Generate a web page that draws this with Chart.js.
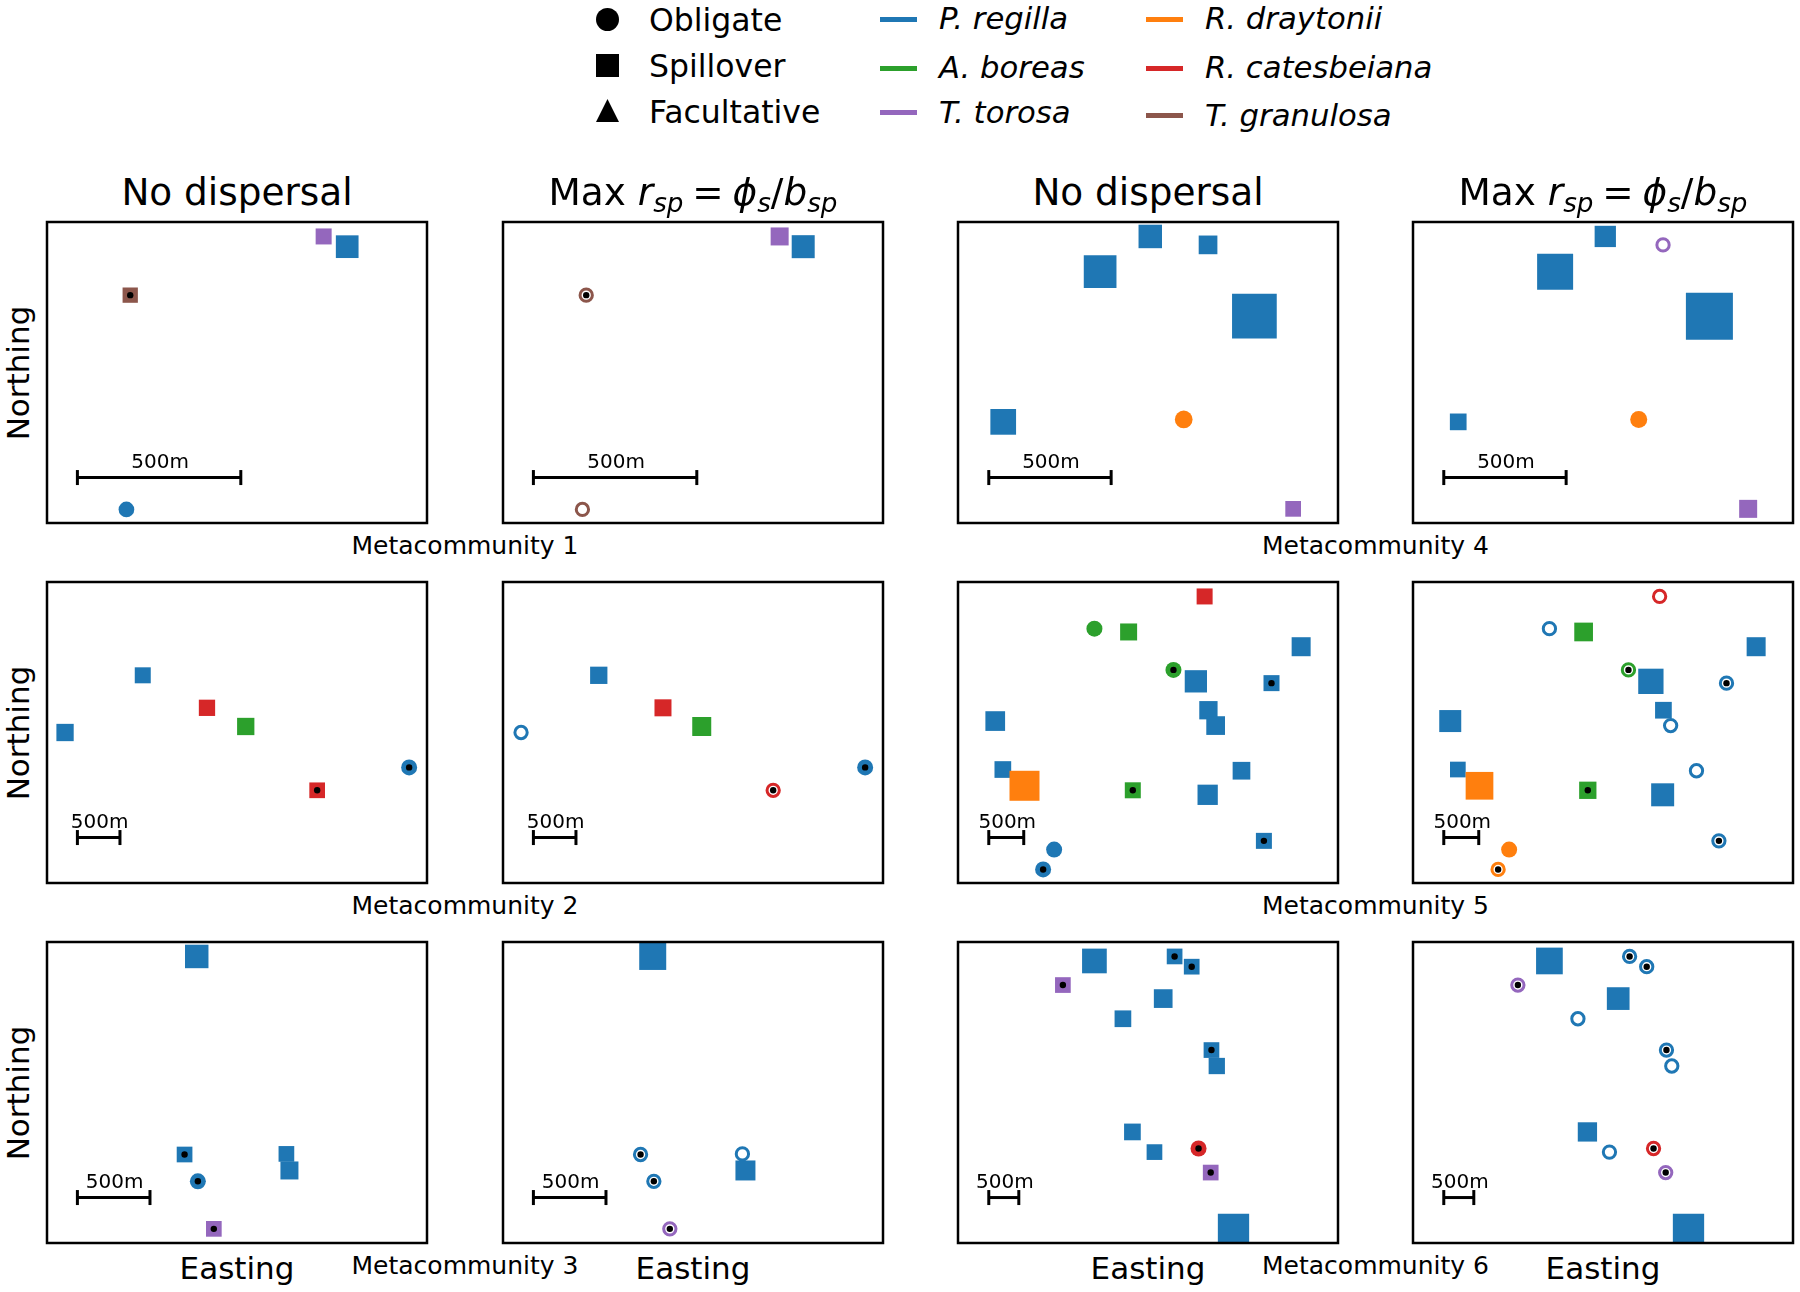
<!DOCTYPE html>
<html>
<head>
<meta charset="utf-8">
<title>Metacommunities</title>
<script src="https://cdn.jsdelivr.net/npm/chart.js@4/dist/chart.umd.js"></script>
<style>
  html, body { margin: 0; padding: 0; background: #fff; }
  #page { position: relative; width: 1800px; height: 1292px; overflow: hidden; font-family: "DejaVu Sans", sans-serif; color: #000; }
  #page canvas { position: absolute; display: block; }
  .txt { position: absolute; white-space: nowrap; line-height: 1; transform: translate(-50%, -50%); }
  .left { transform: translate(0, -50%); }
  .title { font-size: 37.4px; }
  .axis { font-size: 31px; }
  .meta { font-size: 25px; }
  .leg { font-size: 31.5px; }
  .sp { font-size: 30.7px; }
  .ylab { font-size: 31px; transform: translate(-50%, -50%) rotate(-90deg); }
  .eq { margin: 0 -0.08em; }
  sub { font-size: 0.7em; line-height: 0; vertical-align: -0.25em; }
  .mark { position: absolute; background: #000; }
  .swatch { position: absolute; height: 4.5px; width: 37px; }
</style>
</head>
<body>
<div id="page"></div>
<script>
const speciesNames = ['P. regilla', 'A. boreas', 'T. torosa', 'R. draytonii', 'R. catesbeiana', 'T. granulosa'];
const speciesColors = { P: '#1f77b4', A: '#2ca02c', T: '#9467bd', D: '#ff7f0e', C: '#d62728', G: '#8c564b' };
const speciesKeys = ['P', 'A', 'T', 'D', 'C', 'G'];
const typeNames = ['Obligate', 'Spillover', 'Facultative'];

// site kinds: s square, S square + dot, o circle, O circle + dot, r ring, R ring + dot
// sizes are the marker widths, easting/northing in % of the panel extent
const m1x = [72.8, 79.0, 21.9, 20.9];
const m1y = [95.2, 91.8, 75.7, 4.5];
const m1speciesA = ['T', 'P', 'G', 'P'];
const m1kindsA = ['s', 's', 'S', 'o'];
const m1sizesA = [16, 22.7, 15.3, 15.7];
const m1speciesB = ['T', 'P', 'G', 'G'];
const m1kindsB = ['s', 's', 'R', 'r'];
const m1sizesB = [18, 23, 15.3, 15.3];
const m1bar = [8.0, 51.0];

const m2x = [25.2, 42.1, 4.75, 52.3, 71.1, 95.3];
const m2y = [69.0, 58.2, 50.0, 52.0, 30.8, 38.4];
const m2speciesA = ['P', 'C', 'P', 'A', 'C', 'P'];
const m2kindsA = ['s', 's', 's', 's', 'S', 'O'];
const m2sizesA = [16, 16.3, 17.3, 17.3, 15.7, 16];
const m2speciesB = ['P', 'C', 'P', 'A', 'C', 'P'];
const m2kindsB = ['s', 's', 'r', 's', 'R', 'O'];
const m2sizesB = [17.3, 17, 15.3, 19, 15.3, 16];
const m2bar = [8.0, 19.2];

const m3x = [39.4, 36.2, 63.0, 63.8, 39.7, 43.9];
const m3y = [95.2, 29.4, 29.6, 24.1, 20.5, 4.7];
const m3speciesA = ['P', 'P', 'P', 'P', 'P', 'T'];
const m3kindsA = ['s', 'S', 's', 's', 'O', 'S'];
const m3sizesA = [23.5, 15.7, 15.7, 18, 16, 15.7];
const m3speciesB = ['P', 'P', 'P', 'P', 'P', 'T'];
const m3kindsB = ['s', 'R', 'r', 's', 'R', 'R'];
const m3sizesB = [27, 15.3, 15.3, 20, 15.3, 15.3];
const m3bar = [8.0, 27.1];

const m4x = [50.6, 65.8, 37.4, 78.0, 11.9, 59.4, 88.2];
const m4y = [95.2, 92.4, 83.5, 68.7, 33.6, 34.4, 4.7];
const m4speciesA = ['P', 'P', 'P', 'P', 'P', 'D', 'T'];
const m4kindsA = ['s', 's', 's', 's', 's', 'o', 's'];
const m4sizesA = [23.5, 18.7, 32.7, 44.7, 25.7, 17.7, 15.7];
const m4speciesB = ['P', 'T', 'P', 'P', 'P', 'D', 'T'];
const m4kindsB = ['s', 'r', 's', 's', 's', 'o', 's'];
const m4sizesB = [21.3, 15.3, 36, 47, 16.7, 17, 18];
const m4bar = [8.1, 40.3];

const m5x = [64.9, 35.9, 44.9, 90.3, 56.7, 62.6, 82.5, 65.9, 67.8, 9.8, 11.8, 17.5, 74.6, 46.0, 65.7, 25.3, 80.5, 22.4];
const m5y = [95.2, 84.5, 83.4, 78.5, 70.8, 67.0, 66.4, 57.4, 52.3, 53.8, 37.7, 32.3, 37.3, 30.8, 29.3, 11.1, 14.0, 4.5];
const m5speciesA = ['C', 'A', 'A', 'P', 'A', 'P', 'P', 'P', 'P', 'P', 'P', 'D', 'P', 'A', 'P', 'P', 'P', 'P'];
const m5kindsA = ['s', 'o', 's', 's', 'O', 's', 'S', 's', 's', 's', 's', 's', 's', 'S', 's', 'o', 'S', 'O'];
const m5sizesA = [16, 16, 17, 19, 16, 22.3, 16, 18.3, 18.7, 19.7, 16.7, 30, 17.7, 16, 20.3, 16, 16, 16];
const m5speciesB = ['C', 'P', 'A', 'P', 'A', 'P', 'P', 'P', 'P', 'P', 'P', 'D', 'P', 'A', 'P', 'D', 'P', 'D'];
const m5kindsB = ['r', 'r', 's', 's', 'R', 's', 'R', 's', 'r', 's', 's', 's', 'r', 'S', 's', 'o', 'R', 'R'];
const m5sizesB = [15.3, 15.3, 18.7, 19, 15.3, 25.3, 15.3, 16.7, 15.3, 22, 15.7, 27.7, 15.3, 17.3, 23, 16, 15.3, 15.3];
const m5bar = [8.1, 17.3];

const m6x = [35.9, 57.0, 61.5, 27.6, 54.0, 43.4, 66.7, 68.1, 45.9, 51.7, 63.3, 66.5, 72.5];
const m6y = [93.7, 95.2, 91.8, 85.7, 81.2, 74.5, 64.1, 58.8, 36.9, 30.2, 31.4, 23.4, 4.5];
const m6speciesA = ['P', 'P', 'P', 'T', 'P', 'P', 'P', 'P', 'P', 'P', 'C', 'T', 'P'];
const m6kindsA = ['s', 'S', 'S', 'S', 's', 's', 'S', 's', 's', 's', 'O', 'S', 's'];
const m6sizesA = [24.7, 15.7, 15.7, 15.7, 18.7, 16.7, 15.7, 16.3, 16.7, 15.7, 16, 15.7, 31.3];
const m6kindsB = ['s', 'R', 'R', 'R', 's', 'r', 'R', 'r', 's', 'r', 'R', 'R', 's'];
const m6sizesB = [26.7, 15.3, 15.3, 15.3, 22.7, 15.3, 15.3, 15.3, 19.3, 15.3, 15.3, 15.3, 31.3];
const m6bar = [8.1, 16.0];

const barNorthing = 15.1;
const barLabel = '500m';
const titleA = 'No dispersal';
const titleB = 'Max <i>r<sub>sp</sub></i><span class="eq"> = </span><i>ϕ<sub>s</sub></i>/<i>b<sub>sp</sub></i>';

const page = document.getElementById('page');
const PW = 380, PH = 301, PAD = 4;
const colLeft = [47, 503, 958, 1413];
const rowTop = [222, 582, 942];

function addText(cls, html, x, y) {
  const d = document.createElement('div');
  d.className = 'txt ' + cls;
  d.innerHTML = html;
  d.style.left = x + 'px';
  d.style.top = y + 'px';
  page.appendChild(d);
  return d;
}

function makePanel(col, row, xs, ys, species, kinds, sizes, bar) {
  const canvas = document.createElement('canvas');
  canvas.width = PW + PAD * 2;
  canvas.height = PH + PAD * 2;
  canvas.style.left = (colLeft[col] - PAD) + 'px';
  canvas.style.top = (rowTop[row] - PAD) + 'px';
  page.appendChild(canvas);

  const sites = xs.map((x, i) => ({ x: x, y: ys[i] }));
  const dots = sites.filter((_, i) => 'SOR'.includes(kinds[i]));
  const isRing = k => k === 'r' || k === 'R';
  const isSquare = k => k === 's' || k === 'S';

  const framePlugin = {
    id: 'frame',
    afterDraw(chart) {
      const a = chart.chartArea, ctx = chart.ctx;
      ctx.save();
      ctx.strokeStyle = '#000';
      ctx.lineWidth = 2.5;
      ctx.strokeRect(a.left, a.top, a.right - a.left, a.bottom - a.top);
      // scale bar label sits just above the bar
      ctx.fillStyle = '#000';
      ctx.font = '20px "DejaVu Sans"';
      ctx.textAlign = 'center';
      ctx.textBaseline = 'alphabetic';
      ctx.fillText(barLabel, chart.scales.x.getPixelForValue((bar[0] + bar[1]) / 2) + 1, chart.scales.y.getPixelForValue(barNorthing) - 10);
      ctx.restore();
    }
  };

  new Chart(canvas, {
    type: 'scatter',
    data: {
      datasets: [
        {
          data: dots,
          order: 0,
          clip: 0,
          pointStyle: 'circle',
          pointRadius: 3.2,
          pointBackgroundColor: '#000',
          pointBorderWidth: 0
        },
        {
          data: sites,
          order: 1,
          clip: 0,
          pointStyle: kinds.map(k => isSquare(k) ? 'rect' : 'circle'),
          pointRadius: kinds.map((k, i) => isSquare(k) ? sizes[i] * Math.SQRT1_2 : isRing(k) ? (sizes[i] - 3) / 2 : sizes[i] / 2),
          pointBackgroundColor: kinds.map((k, i) => isRing(k) ? '#fff' : speciesColors[species[i]]),
          pointBorderColor: species.map(s => speciesColors[s]),
          pointBorderWidth: kinds.map(k => isRing(k) ? 3 : 0)
        },
        {
          data: [{ x: bar[0], y: barNorthing }, { x: bar[1], y: barNorthing }],
          order: 2,
          clip: 0,
          showLine: true,
          borderColor: '#000',
          borderWidth: 3,
          pointStyle: 'line',
          pointRotation: 90,
          pointRadius: 7.5,
          pointBorderColor: '#000',
          pointBorderWidth: 3
        }
      ]
    },
    options: {
      responsive: false,
      animation: false,
      events: [],
      layout: { padding: PAD, autoPadding: false },
      plugins: { legend: { display: false }, tooltip: { enabled: false } },
      scales: {
        x: { type: 'linear', min: 0, max: 100, display: false },
        y: { type: 'linear', min: 0, max: 100, display: false }
      }
    },
    plugins: [framePlugin]
  });
}

makePanel(0, 0, m1x, m1y, m1speciesA, m1kindsA, m1sizesA, m1bar);
makePanel(1, 0, m1x, m1y, m1speciesB, m1kindsB, m1sizesB, m1bar);
makePanel(0, 1, m2x, m2y, m2speciesA, m2kindsA, m2sizesA, m2bar);
makePanel(1, 1, m2x, m2y, m2speciesB, m2kindsB, m2sizesB, m2bar);
makePanel(0, 2, m3x, m3y, m3speciesA, m3kindsA, m3sizesA, m3bar);
makePanel(1, 2, m3x, m3y, m3speciesB, m3kindsB, m3sizesB, m3bar);
makePanel(2, 0, m4x, m4y, m4speciesA, m4kindsA, m4sizesA, m4bar);
makePanel(3, 0, m4x, m4y, m4speciesB, m4kindsB, m4sizesB, m4bar);
makePanel(2, 1, m5x, m5y, m5speciesA, m5kindsA, m5sizesA, m5bar);
makePanel(3, 1, m5x, m5y, m5speciesB, m5kindsB, m5sizesB, m5bar);
makePanel(2, 2, m6x, m6y, m6speciesA, m6kindsA, m6sizesA, m6bar);
makePanel(3, 2, m6x, m6y, m6speciesA, m6kindsB, m6sizesB, m6bar);

// column titles and axis labels
colLeft.forEach((left, i) => {
  const cx = left + PW / 2;
  addText('title', i % 2 ? titleB : titleA, cx, 193);
  addText('axis', 'Easting', cx, 1268);
});
rowTop.forEach((top, r) => {
  addText('ylab', 'Northing', 18, top + PH / 2);
  addText('meta', 'Metacommunity ' + (r + 1), 465, top + 322.5);
  addText('meta', 'Metacommunity ' + (r + 4), 1375.5, top + 322.5);
});

// legend
const typeY = [19, 65, 110.5];
const typeTextY = [21, 67, 113];
typeNames.forEach((name, i) => {
  const m = document.createElement('div');
  m.className = 'mark';
  m.style.left = '596px';
  m.style.top = (typeY[i] - 11.5) + 'px';
  m.style.width = '23px';
  m.style.height = '23px';
  if (i === 0) m.style.borderRadius = '50%';
  if (i === 2) m.style.clipPath = 'polygon(50% 0, 100% 100%, 0 100%)';
  page.appendChild(m);
  addText('leg left', name, 649, typeTextY[i]);
});
const speciesY = [19, 68, 112, 19, 68, 115];
const speciesTextY = [19, 68, 113, 19, 68, 116];
speciesNames.forEach((name, i) => {
  const s = document.createElement('div');
  s.className = 'swatch';
  s.style.background = speciesColors[speciesKeys[i]];
  s.style.left = (i < 3 ? 880 : 1146) + 'px';
  s.style.top = (speciesY[i] - 2) + 'px';
  page.appendChild(s);
  addText('sp left', '<i>' + name + '</i>', i < 3 ? 939 : 1205, speciesTextY[i]);
});
</script>
</body>
</html>
